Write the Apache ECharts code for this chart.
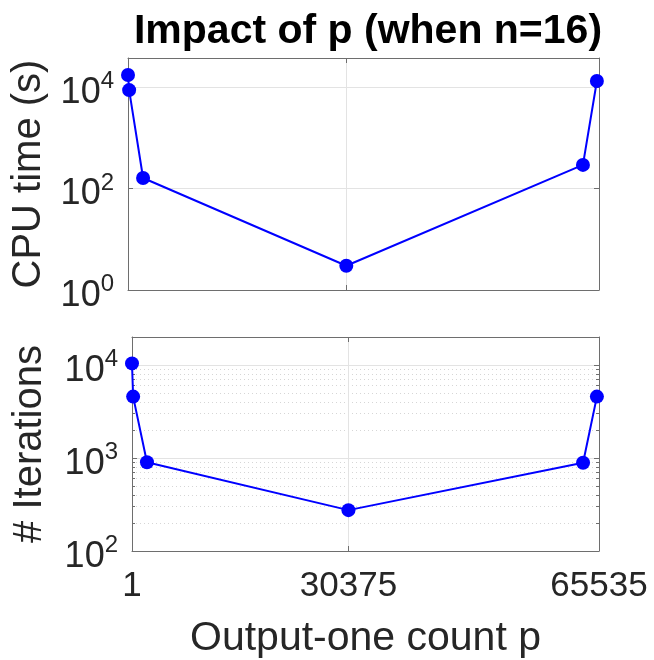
<!DOCTYPE html>
<html>
<head>
<meta charset="utf-8">
<script src="https://cdn.jsdelivr.net/npm/echarts@6/dist/echarts.min.js"></script>
<style>
html,body{margin:0;padding:0;background:#fff}
#main{width:654px;height:660px}
</style>
</head>
<body>
<div id="main"></div>
<script>
var pValues = [1, 160, 2100, 30375, 63300, 65240];
var cpuTime = [17000, 8600, 160, 3, 290, 13000];
var iterations = [10400, 4570, 900, 275, 890, 4570];
var xTicks = [1, 30375, 65535];

var FONT = 'Liberation Sans, Arial, sans-serif';
var TXT = '#262626';
var BOX = '#6e6e6e';
var GRID = '#e3e3e3';

function pairs(ys){
    var out = [];
    for (var i = 0; i < pValues.length; i++) out.push([pValues[i], ys[i]]);
    return out;
}

function powLabel(v){
    var e = Math.round(Math.log10(v));
    if (Math.abs(Math.pow(10, e) - v) > 1e-6 * v) return '';
    return '{b|10}{s|' + e + '}';
}

var powRich = {
    b: {fontSize: 36, lineHeight: 36, padding: [12, 0, 0, 0], color: TXT, fontFamily: FONT},
    s: {fontSize: 24, lineHeight: 24, padding: [0, 0, 11, 0], color: TXT, fontFamily: FONT}
};

function xAxisCfg(grid, pos, labels){
    return {
        type: 'value', gridIndex: grid, position: pos, min: 1, max: 65535,
        axisLine: {show: true, onZero: false, lineStyle: {color: BOX, width: 1}},
        axisTick: {show: true, inside: true, length: 5, customValues: xTicks, lineStyle: {color: BOX}},
        axisLabel: {
            show: labels, customValues: xTicks, margin: 18, fontSize: 35, color: TXT, fontFamily: FONT,
            formatter: function(v){ return String(v); }
        },
        splitLine: {show: pos === 'bottom', lineStyle: {color: GRID, width: 1}}
    };
}

function yAxisCfg(grid, pos, base, max, minor, name, gap){
    var c = {
        type: 'log', logBase: base, gridIndex: grid, position: pos,
        min: base === 100 ? 1 : 100, max: max,
        axisLine: {show: true, onZero: false, lineStyle: {color: BOX, width: 1}},
        axisTick: {show: true, inside: true, length: 5, lineStyle: {color: BOX}},
        axisLabel: {show: pos === 'left', margin: 14, formatter: powLabel, rich: powRich},
        splitLine: {show: pos === 'left', lineStyle: {color: GRID, width: 1}},
        minorTick: {show: minor, splitNumber: 9, length: 3, lineStyle: {color: BOX}},
        minorSplitLine: {show: minor && pos === 'left', lineStyle: {color: '#d6d6d6', type: [1, 3], width: 1}}
    };
    if (name) {
        c.name = name;
        c.nameLocation = 'middle';
        c.nameGap = gap;
        c.nameTextStyle = {fontSize: 40, color: TXT, fontFamily: FONT};
    }
    return c;
}

var myChart = echarts.init(document.getElementById('main'));
var option = {
    backgroundColor: '#fff',
    animation: false,
    title: {
        text: 'Impact of p (when n=16)',
        left: 363, top: 6, textAlign: 'center',
        textStyle: {fontSize: 41, fontWeight: 'bold', color: '#000', fontFamily: FONT}
    },
    grid: [
        {left: 128, top: 58, width: 471, height: 232},
        {left: 132, top: 337, width: 467, height: 214}
    ],
    xAxis: [
        xAxisCfg(0, 'bottom', false),
        xAxisCfg(0, 'top', false),
        (function(){
            var a = xAxisCfg(1, 'bottom', true);
            a.name = 'Output-one count p';
            a.nameLocation = 'middle';
            a.nameGap = 67;
            a.nameTextStyle = {fontSize: 41, color: TXT, fontFamily: FONT};
            return a;
        })(),
        xAxisCfg(1, 'top', false)
    ],
    yAxis: [
        yAxisCfg(0, 'left', 100, 36800, false, 'CPU time (s)', 79),
        yAxisCfg(0, 'right', 100, 36800, false),
        yAxisCfg(1, 'left', 10, 20000, true, '# Iterations', 82),
        yAxisCfg(1, 'right', 10, 20000, true)
    ],
    series: [
        {
            name: 'CPU time', type: 'line', xAxisIndex: 0, yAxisIndex: 0,
            data: pairs(cpuTime),
            symbol: 'circle', symbolSize: 14,
            lineStyle: {color: '#0000ff', width: 2},
            itemStyle: {color: '#0000ff'}
        },
        {
            name: 'Iterations', type: 'line', xAxisIndex: 2, yAxisIndex: 2,
            data: pairs(iterations),
            symbol: 'circle', symbolSize: 14,
            lineStyle: {color: '#0000ff', width: 2},
            itemStyle: {color: '#0000ff'}
        }
    ]
};
myChart.setOption(option);
</script>
</body>
</html>
